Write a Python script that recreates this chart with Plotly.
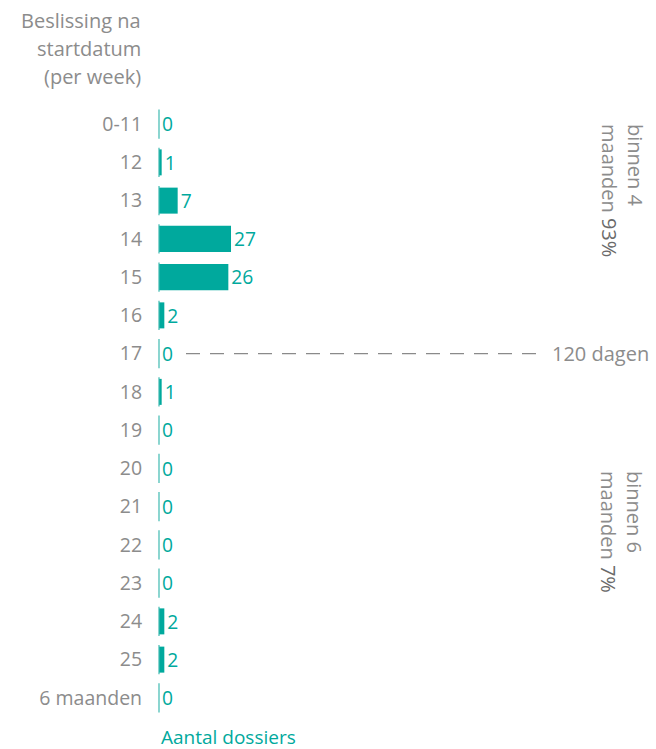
import plotly.graph_objects as go

categories = ["0-11", "12", "13", "14", "15", "16", "17", "18", "19", "20",
              "21", "22", "23", "24", "25", "6 maanden"]
dossiers = [0, 1, 7, 27, 26, 2, 0, 1, 0, 0, 0, 0, 0, 2, 2, 0]

header_lines = ["Beslissing na", "startdatum", "(per week)"]
x_title = "Aantal dossiers"
marker_label = "120 dagen"
marker_category = "17"
group_labels = ["binnen 4<br>maanden <span style='color:#6a6a6a'>93%</span>",
                "binnen 6<br>maanden <span style='color:#6a6a6a'>7%</span>"]

TEAL = "#00a99d"
GRAY = "#8c8c8c"
FONT = "Open Sans"

W, H = 656, 749
ML, MR, MT, MB = 159, 6, 105, 32
plot_w = W - ML - MR
plot_h = H - MT - MB
xmax = plot_w / 2.667
n = len(categories)
mark_idx = categories.index(marker_category)

fig = go.Figure()

# thin zero lines per row
fig.add_trace(go.Scatter(
    x=[0] * n, y=categories, mode="markers",
    marker=dict(symbol="line-ns", size=21, line=dict(width=1.2, color="#3fbab1")),
    hoverinfo="skip", showlegend=False, cliponaxis=False,
))

fig.add_trace(go.Bar(
    x=dossiers, y=categories, orientation="h",
    marker=dict(color=TEAL, line=dict(width=0)),
    text=[str(v) for v in dossiers], textposition="outside",
    textfont=dict(family=FONT, size=20, color=TEAL),
    cliponaxis=False, showlegend=False,
))

def px_x(p):
    return (p - ML) / plot_w

def px_y(p):
    return (H - MB - p) / plot_h

annotations = []
for line, yy in zip(header_lines, [20, 48, 77]):
    annotations.append(dict(text=line, xref="paper", yref="paper",
                            x=px_x(143), y=px_y(yy), xanchor="right", yanchor="middle",
                            showarrow=False, font=dict(family=FONT, size=20, color=GRAY)))
annotations.append(dict(text=x_title, xref="paper", yref="paper",
                        x=0, y=px_y(737), xanchor="left", yanchor="middle",
                        showarrow=False, font=dict(family=FONT, size=19, color=TEAL)))
annotations.append(dict(text=marker_label, xref="paper", yref="y",
                        x=px_x(651), y=mark_idx, xanchor="right", yanchor="middle",
                        showarrow=False, font=dict(family=FONT, size=20, color=GRAY)))
for lbl, yy in zip(group_labels, [190, 532]):
    annotations.append(dict(text=lbl, xref="paper", yref="paper",
                            x=px_x(622), y=px_y(yy), xanchor="center", yanchor="middle",
                            textangle=90, align="left",
                            showarrow=False, font=dict(family=FONT, size=20, color=GRAY)))

shapes = [dict(type="line", xref="paper", yref="y",
               x0=px_x(186), x1=px_x(541), y0=mark_idx, y1=mark_idx,
               line=dict(color="#8a8a8a", width=1.2, dash="14px,10px"))]

fig.update_layout(
    width=W, height=H,
    margin=dict(l=ML, r=MR, t=MT, b=MB, autoexpand=False),
    paper_bgcolor="white", plot_bgcolor="white",
    bargap=0.32,
    xaxis=dict(range=[0, xmax], visible=False, showgrid=False, zeroline=False),
    yaxis=dict(type="category", range=[n - 0.5, -0.5], autorange=False,
               showgrid=False, zeroline=False, showline=False, automargin=False,
               ticks="outside", ticklen=12, tickcolor="rgba(0,0,0,0)",
               tickfont=dict(family=FONT, size=19.5, color=GRAY)),
    annotations=annotations, shapes=shapes,
)

fig.write_html("out.html", config={"displayModeBar": False},
               post_script="document.body.style.margin='0px';document.body.style.overflow='hidden';")
